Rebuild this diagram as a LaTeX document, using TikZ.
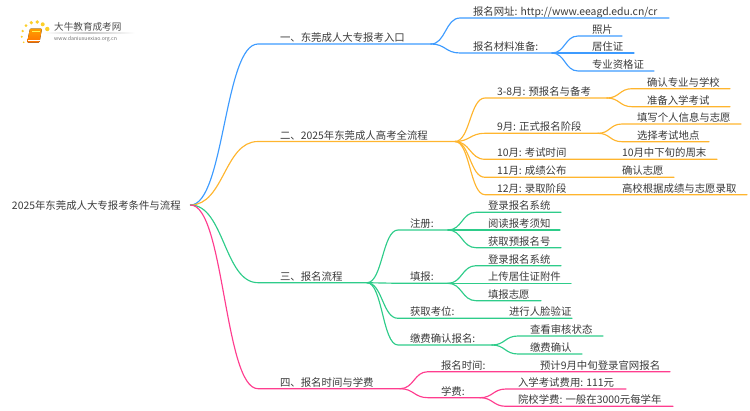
\documentclass[tikz,border=0pt]{standalone}
\usepackage{fontspec}
\setmainfont{Noto Sans CJK SC}
\usetikzlibrary{calc}
\definecolor{cblue}{HTML}{3D9BFF}
\definecolor{corange}{HTML}{FFB52E}
\definecolor{cgreen}{HTML}{2ECC8A}
\definecolor{cpink}{HTML}{FF3D8F}
\definecolor{ctext}{HTML}{3A3A3A}
\tikzset{
  lbl/.style={anchor=base west,inner sep=0pt,outer sep=0pt,text=ctext,font=\fontsize{10.4pt}{12pt}\selectfont},
  wire/.style={line width=1.15pt,line cap=round},
  dot/.style={fill=#1,draw=none}
}
% colour, parent, name, x where the curve lands, x where the line ends, line y, text x, text
\newcommand{\lf}[8]{%
  \coordinate (#3-s) at (#4,#6);
  \coordinate (#3-e) at (#5,#6);
  \node[lbl] (#3) at (#7,#6-2.5) {#8};
  \draw[wire,#1] let \p1=(#2-e),\p2=(#3-s) in
    (#2-e) .. controls ({0.5*\x1+0.5*\x2},\y1) and ({0.5*\x1+0.5*\x2},\y2) .. (#3-s) -- (#3-e);
}
\newcommand{\tx}[4]{\node[lbl] (#1) at (#2,#3-2.5) {#4};}
\begin{document}
\begin{tikzpicture}[x=1pt,y=-1pt]
\useasboundingbox (0,0) rectangle (750,410);
% logo
\shade[left color=white,right color=white,middle color=black!22] (44,32.8) rectangle (135,33.6);
\foreach \px/\py/\r in {23.7/42.3/0.9,21.7/36.7/1.1,22.7/31/1.3,26/25.7/1.5,31.3/22.7/1.8,37.3/22/1.9,42.7/24.3/2.0,47.3/29/2.2}
  \fill[dot=yellow!60!orange!85] (\px,\py) circle (\r);
\fill[rounded corners=1pt,top color=orange!75!yellow,bottom color=orange!90!red] (30,28.5) -- (42,28.5) -- (39.5,42.5) -- (27,42.5) -- cycle;
\draw[white,line width=0.5pt] (28,40.2) -- (39.5,40.2);
\draw[yellow!70!white,line width=0.6pt] (32,31.5) -- (40,31.5);
\node[anchor=base west,inner sep=0pt,text=black!70,font=\fontsize{9.6pt}{11pt}\selectfont] (logoa) at (54,30.3) {大牛教育成考网};
\node[anchor=base west,inner sep=0pt,text=black!55,font=\fontsize{5.2pt}{6pt}\selectfont] (logob) at (54,40.3) {www.daniuxuexiao.org.cn};
% root
\coordinate (root-e) at (190.5,205);
\tx{root}{12}{211.5}{2025年东莞成人大专报考条件与流程}
% branch 1
\lf{cblue}{root}{a}{258}{431}{44}{280}{一、东莞成人大专报考入口}
\lf{cblue}{a}{a1}{460}{669}{18}{473}{报名网址: http://www.eeagd.edu.cn/cr}
\lf{cblue}{a}{a2}{460}{552}{53}{473}{报名材料准备:}
\lf{cblue}{a2}{a21}{578}{622}{36}{592}{照片}
\lf{cblue}{a2}{a22}{578}{634}{53}{592}{居住证}
\lf{cblue}{a2}{a23}{578}{654}{71}{592}{专业资格证}
% branch 2
\lf{corange}{root}{b}{258}{455}{141.5}{280}{二、2025年东莞成人高考全流程}
\lf{corange}{b}{b1}{485}{607}{98}{497}{3-8月: 预报名与备考}
\lf{corange}{b1}{b11}{632}{730}{88.7}{647}{确认专业与学校}
\lf{corange}{b1}{b12}{632}{730}{106.7}{647}{准备入学考试}
\lf{corange}{b}{b2}{485}{598}{133.3}{497}{9月: 正式报名阶段}
\lf{corange}{b2}{b21}{622}{741}{124}{637}{填写个人信息与志愿}
\lf{corange}{b2}{b22}{622}{709}{141.7}{637}{选择考试地点}
\lf{corange}{b}{b3}{485}{717}{159.3}{497}{10月: 考试时间}
\tx{b31}{622}{159.3}{10月中下旬的周末}
\lf{corange}{b}{b4}{485}{674}{177.3}{497}{11月: 成绩公布}
\tx{b41}{622}{177.3}{确认志愿}
\lf{corange}{b}{b5}{485}{747}{194.7}{497}{12月: 录取阶段}
\tx{b51}{622}{194.7}{高校根据成绩与志愿录取}
% branch 3
\lf{cgreen}{root}{c}{258}{367}{282.7}{280}{三、报名流程}
\lf{cgreen}{c}{c1}{398}{448}{230}{410}{注册:}
\lf{cgreen}{c1}{c11}{476}{561}{212.3}{488}{登录报名系统}
\lf{cgreen}{c1}{c12}{476}{560}{230}{488}{阅读报考须知}
\lf{cgreen}{c1}{c13}{476}{561}{247.7}{488}{获取预报名号}
\lf{cgreen}{c}{c2}{398}{448}{283.3}{410}{填报:}
\lf{cgreen}{c2}{c21}{476}{561}{265.7}{488}{登录报名系统}
\lf{cgreen}{c2}{c22}{476}{571}{283.3}{488}{上传居住证附件}
\lf{cgreen}{c2}{c23}{476}{541}{300.7}{488}{填报志愿}
\lf{cgreen}{c}{c3}{398}{572}{318.3}{410}{获取考位:}
\tx{c31}{509}{318.3}{进行人脸验证}
\lf{cgreen}{c}{c4}{398}{492}{345}{410}{缴费确认报名:}
\lf{cgreen}{c4}{c41}{518}{603}{336}{530}{查看审核状态}
\lf{cgreen}{c4}{c42}{518}{582}{354}{530}{缴费确认}
% branch 4
\lf{cpink}{root}{d}{258}{400}{388.7}{280}{四、报名时间与学费}
\lf{cpink}{d}{d1}{428}{670}{371.7}{441}{报名时间:}
\tx{d11}{540}{371.7}{预计9月中旬登录官网报名}
\lf{cpink}{d}{d2}{428}{480}{397.7}{441}{学费:}
\lf{cpink}{d2}{d21}{506}{626}{389}{518}{入学考试费用: 111元}
\lf{cpink}{d2}{d22}{506}{673}{406.3}{518}{院校学费: 一般在3000元每学年}
\end{tikzpicture}
\end{document}
